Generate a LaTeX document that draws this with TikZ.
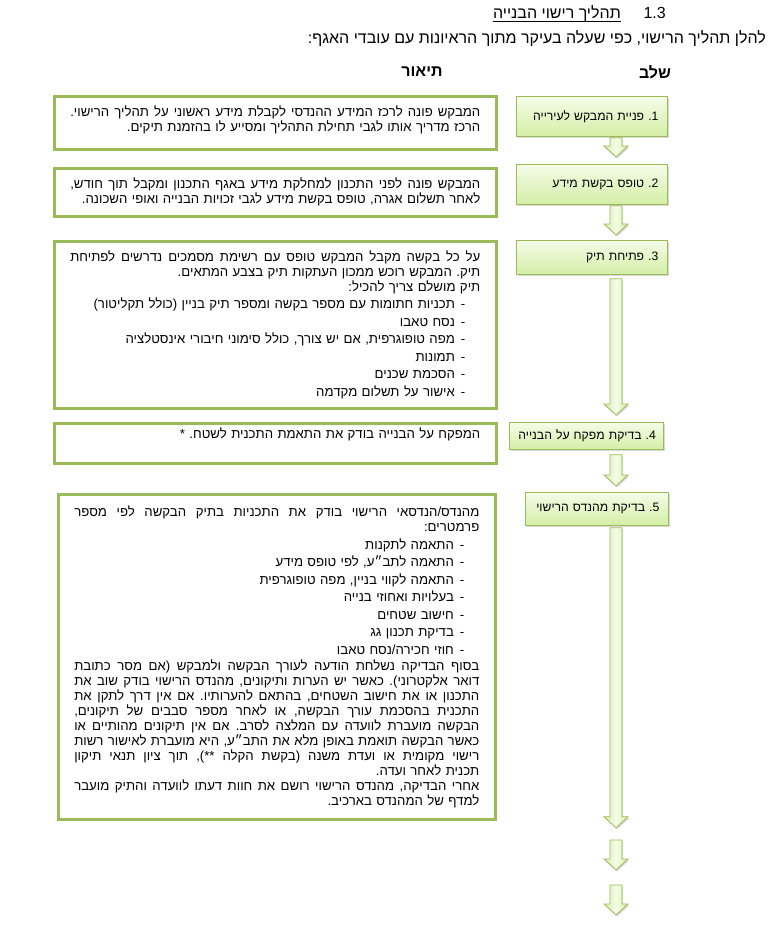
\documentclass[tikz,border=0pt]{standalone}
\usepackage{fontspec}
\setmainfont{Liberation Sans}
\newfontfamily\hebfont[Script=Hebrew]{Liberation Sans}
\TeXXeTstate=1
\frenchspacing
\setlength{\parindent}{0pt}
\usepackage{tikz}
\usetikzlibrary{calc,shadows,positioning}
\definecolor{stageline}{RGB}{155,187,89}
\definecolor{stagetop}{RGB}{245,252,233}
\definecolor{stagebot}{RGB}{212,238,166}
\definecolor{descline}{RGB}{155,187,89}

\newcommand{\rl}[1]{\beginR#1\endR}
\newcommand{\stl}[1]{\mbox{\beginR#1\endR}}
\newcommand{\jl}[1]{\leavevmode\hbox to\hsize{\spaceskip=\fontdimen2\font plus 1fil\relax\beginR#1\endR}}
\newcommand{\bl}[1]{\beginR-\hspace{6pt}#1\endR\kern15pt}
\newcommand{\flowarrow}[2]{%
  \path[arr] let \p1=(#1), \p2=(#2), \p3=(axis) in
    (\x3-6pt,\y1) -- (\x3+6pt,\y1) -- (\x3+6pt,\y2+11pt) -- (\x3+12pt,\y2+11pt)
    -- (\x3,\y2) -- (\x3-12pt,\y2+11pt) -- (\x3-6pt,\y2+11pt) -- cycle;}

\begin{document}
\begin{tikzpicture}[x=1pt, y=-1pt,
  stage/.style={draw=stageline, line width=0.8pt, top color=stagetop, bottom color=stagebot,
    anchor=north west, align=right, inner xsep=9pt, inner ysep=2pt,
    font=\hebfont\fontsize{12.2}{15}\selectfont,
    drop shadow={shadow xshift=1.5pt, shadow yshift=-2pt, opacity=.3}},
  desc/.style={draw=descline, line width=2.6pt, fill=white, anchor=north west, align=right,
    inner xsep=16pt, inner ysep=3pt, font=\hebfont\fontsize{13.2}{15}\selectfont,
    drop shadow={shadow xshift=1.2pt, shadow yshift=-1.5pt, opacity=.2}},
  arr/.style={draw=stageline, line width=0.8pt, left color=stagebot, right color=stagebot,
    middle color=stagetop, drop shadow={shadow xshift=1.2pt, shadow yshift=-1.5pt, opacity=.3}},
  head/.style={font=\hebfont\fontsize{16}{19}\selectfont\bfseries, inner sep=0pt}]
\useasboundingbox (0,0) rectangle (781,937);

\node[inner sep=0pt, anchor=east, font=\hebfont\fontsize{16}{19}\selectfont] (num) at (666,13) {1.3};
\node[inner sep=0pt, anchor=east, font=\hebfont\fontsize{16}{19}\selectfont] (title) at (621,13) {\rl{תהליך רישוי הבנייה}};
\draw[line width=0.8pt] ([yshift=-3pt]title.base west) -- ([yshift=-3pt]title.base east);
\node[inner sep=0pt, anchor=east, font=\hebfont\fontsize{16}{19}\selectfont] (intro) at (766,38)
  {\rl{להלן תהליך הרישוי, כפי שעלה בעיקר מתוך הראיונות עם עובדי האגף:}};
\node[head] (hstage) at (655,72) {\rl{שלב}};
\node[head] (hdesc) at (422,72) {\rl{תיאור}};

\node[stage, text width=133pt, minimum height=40pt] (s1) at (516,96) {\stl{1. פניית המבקש לעירייה}};
\node[stage, text width=133pt, minimum height=40pt] (s2) at (516,164) {\stl{2. טופס בקשת מידע}};
\node[stage, text width=133pt, minimum height=34pt] (s3) at (516,240) {\stl{3. פתיחת תיק}};
\node[stage, text width=136pt, minimum height=27pt] (s4) at (509,422) {\stl{4. בדיקת מפקח על הבנייה}};
\node[stage, text width=125pt, minimum height=33pt] (s5) at (525,492) {\stl{5. בדיקת מהנדס הרישוי}};

\node[desc, text width=410pt, minimum height=53pt] (d1) at (53,95) {%
  \jl{המבקש פונה לרכז המידע ההנדסי לקבלת מידע ראשוני על תהליך הרישוי.}\\
  \rl{הרכז מדריך אותו לגבי תחילת התהליך ומסייע לו בהזמנת תיקים.}\\[-7pt]\mbox{}};
\node[desc, text width=410pt, minimum height=48pt] (d2) at (53,167) {%
  \jl{המבקש פונה לפני התכנון למחלקת מידע באגף התכנון ומקבל תוך חודש,}\\
  \rl{לאחר תשלום אגרה, טופס בקשת מידע לגבי זכויות הבנייה ואופי השכונה.}};
\node[desc, text width=410pt, minimum height=167pt] (d3) at (53,240) {%
  \jl{על כל בקשה מקבל המבקש טופס עם רשימת מסמכים נדרשים לפתיחת}\\
  \rl{תיק. המבקש רוכש ממכון העתקות תיק בצבע המתאים.}\\
  \rl{תיק מושלם צריך להכיל:}\\[2.5pt]
  \bl{תכניות חתומות עם מספר בקשה ומספר תיק בניין (כולל תקליטור)}\\[2.5pt]
  \bl{נסח טאבו}\\[2.5pt]
  \bl{מפה טופוגרפית, אם יש צורך, כולל סימוני חיבורי אינסטלציה}\\[2.5pt]
  \bl{תמונות}\\[2.5pt]
  \bl{הסכמת שכנים}\\[2.5pt]
  \bl{אישור על תשלום מקדמה}};
\node[desc, text width=410pt, minimum height=40pt] (d4) at (53,422) {%
  \rl{המפקח על הבנייה בודק את התאמת התכנית לשטח. *}\\[6pt]\mbox{}};
\node[desc, text width=405pt, minimum height=325pt] (d5) at (57,493) {%
  \jl{מהנדס/הנדסאי הרישוי בודק את התכניות בתיק הבקשה לפי מספר}\\
  \rl{פרמטרים:}\\[2.5pt]
  \bl{התאמה לתקנות}\\[2.5pt]
  \bl{התאמה לתב״ע, לפי טופס מידע}\\[2.5pt]
  \bl{התאמה לקווי בניין, מפה טופוגרפית}\\[2.5pt]
  \bl{בעלויות ואחוזי בנייה}\\[2.5pt]
  \bl{חישוב שטחים}\\[2.5pt]
  \bl{בדיקת תכנון גג}\\[2.5pt]
  \bl{חוזי חכירה/נסח טאבו}\\[1pt]
  \jl{בסוף הבדיקה נשלחת הודעה לעורך הבקשה ולמבקש (אם מסר כתובת}\\
  \jl{דואר אלקטרוני). כאשר יש הערות ותיקונים, מהנדס הרישוי בודק שוב את}\\
  \jl{התכנון או את חישוב השטחים, בהתאם להערותיו. אם אין דרך לתקן את}\\
  \jl{התכנית בהסכמת עורך הבקשה, או לאחר מספר סבבים של תיקונים,}\\
  \jl{הבקשה מועברת לוועדה עם המלצה לסרב. אם אין תיקונים מהותיים או}\\
  \jl{כאשר הבקשה תואמת באופן מלא את התב״ע, היא מועברת לאישור רשות}\\
  \jl{רישוי מקומית או ועדת משנה (בקשת הקלה **), תוך ציון תנאי תיקון}\\
  \rl{תכנית לאחר ועדה.}\\
  \jl{אחרי הבדיקה, מהנדס הרישוי רושם את חוות דעתו לוועדה והתיק מועבר}\\
  \rl{למדף של המהנדס בארכיב.}};

\coordinate (axis) at (616,0);
\coordinate (e1) at (616,840);
\coordinate (e2) at (616,870);
\coordinate (e3) at (616,885);
\coordinate (e4) at (616,915);
\flowarrow{[yshift=-1pt]s1.south}{[yshift=7pt]s2.north}
\flowarrow{[yshift=-1pt]s2.south}{[yshift=5pt]s3.north}
\flowarrow{[yshift=-4pt]s3.south}{[yshift=7pt]s4.north}
\flowarrow{[yshift=-5pt]s4.south}{[yshift=6pt]s5.north}
\flowarrow{[yshift=-2pt]s5.south}{[yshift=-302pt]s5.south}
\flowarrow{e1}{e2}
\flowarrow{e3}{e4}
\end{tikzpicture}
\end{document}
